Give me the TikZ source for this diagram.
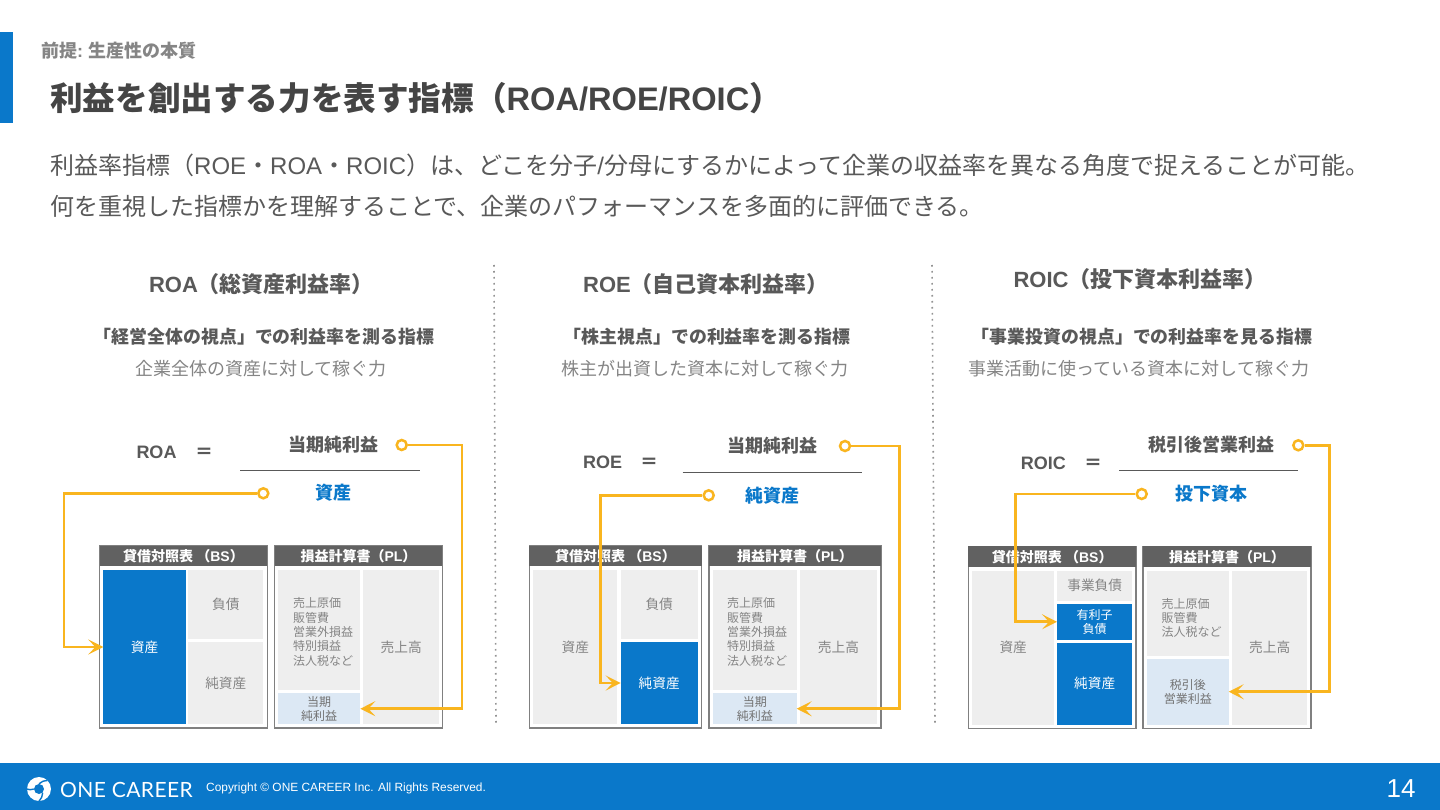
\documentclass[tikz,border=0pt]{standalone}
\usepackage{fontspec}
\setmainfont{Noto Sans CJK JP}
\newfontfamily\latinfont{Liberation Sans}
\newfontfamily\logofont[LetterSpace=2]{Lato}
\newcommand{\la}[1]{{\latinfont #1}}
\newcommand{\fs}[1]{\fontsize{#1}{#1}\selectfont}
\usetikzlibrary{arrows.meta}
\definecolor{oneblue}{HTML}{0A78CA}
\definecolor{amber}{HTML}{F9B51F}
\definecolor{cellgray}{HTML}{EEEEEE}
\definecolor{palecell}{HTML}{DCE8F4}
\definecolor{inkdark}{HTML}{454545}
\definecolor{inkmid}{HTML}{595959}
\definecolor{inklight}{HTML}{858585}
\definecolor{framegray}{HTML}{808080}
\begin{document}
\begin{tikzpicture}[x=1pt,y=-1pt,
    frame/.style ={draw=framegray, line width=1.5pt, minimum height=182pt, inner sep=0pt},
    headbar/.style ={fill=inkmid!95!white, text=white, minimum height=20.5pt, inner sep=0pt, font=\fs{14}\bfseries},
    cell/.style ={fill=cellgray, text=inklight, inner sep=0pt, outer sep=0pt, font=\fs{13.7}, align=center},
    bluecell/.style ={cell, fill=oneblue, text=white},
    twoline/.style ={font=\fontsize{12}{14.5}\selectfont},
    profitcell/.style ={cell, fill=palecell, text=inkmid!85!white, twoline},
    costlist/.style ={text=inklight, inner sep=0pt, font=\fontsize{12}{14.3}\selectfont, align=left},
    paneltitle/.style ={text=inkmid, inner sep=0pt, font=\fs{22}\bfseries},
    panelhead/.style ={text=inkmid, inner sep=0pt, font=\fs{17.9}\bfseries},
    panelnote/.style ={text=inklight, inner sep=0pt, font=\fs{18}},
    formula/.style ={text=inkmid, inner sep=0pt, font=\fs{18}\bfseries},
    denom/.style ={formula, text=oneblue},
    ring/.style ={circle, draw=amber, fill=white, line width=2.5pt, minimum size=10pt, inner sep=0pt},
    link/.style ={draw=amber, line width=2.8pt, -{Stealth[length=15pt, width=15pt, inset=7pt]}},
    fracline/.style ={draw=inkmid, line width=1pt},
    divider/.style ={draw=framegray!85, line width=1.6pt, dash pattern=on 1.6pt off 4.4pt}]
   \useasboundingbox (0,0) rectangle (1440,810);

   % page furniture
   \fill[white] (0,0) rectangle (1440,810);
   \fill[oneblue] (0,32) rectangle (13,123);
   \fill[oneblue] (0,763) rectangle (1440,810);
   \node[anchor=west, inner sep=0pt, text=inklight, font=\fs{18}\bfseries] (kicker) at (41,50.5) {前提\la{:} 生産性の本質};
   \node[anchor=west, inner sep=0pt, text=inkdark, font=\fs{32.6}\bfseries] (title) at (50,98) {利益を創出する力を表す指標（\la{ROA/ROE/ROIC}）};
   \node[anchor=west, inner sep=0pt, text=inkmid, font=\fs{24}] (introA) at (50,165) {利益率指標（\la{ROE}・\la{ROA}・\la{ROIC}）は、どこを分子\la{/}分母にするかによって企業の収益率を異なる角度で捉えることが可能。};
   \node[anchor=west, inner sep=0pt, text=inkmid, font=\fs{24}] (introB) at (50,206) {何を重視した指標かを理解することで、企業のパフォーマンスを多面的に評価できる。};
   \coordinate (divAtop) at (494,265);
   \coordinate (divAend) at (496,725);
   \coordinate (divBtop) at (932,265);
   \coordinate (divBend) at (935,725);
   \draw[divider] (divAtop) -- (divAend);
   \draw[divider] (divBtop) -- (divBend);

   % ROA
   \node[paneltitle] (titleA) at (261.5,284) {\la{ROA}（総資産利益率）};
   \node[panelhead] (headA) at (264,337) {「経営全体の視点」での利益率を測る指標};
   \node[panelnote] (noteA) at (261,368.5) {企業全体の資産に対して稼ぐ力};
   \node[formula] (nameA) at (156.5,452) {\la{ROA}};
   \node[formula] (eqA) at (204,453) {＝};
   \node[formula] (numA) at (333,445) {当期純利益};
   \node[denom] (denA) at (333,493) {資産};
   \coordinate (fracAl) at (240.3,470.7);
   \coordinate (fracAr) at (420,470.7);
   \draw[fracline] (fracAl) -- (fracAr);
   \node[frame, minimum width=167.6pt] (bsA) at (183.5,637) {};
   \node[headbar, minimum width=167.6pt] (bsheadA) at (183.5,556) {貸借対照表 （\la{BS}）};
   \node[bluecell, minimum width=82.4pt, minimum height=154pt] (assetA) at (144.5,647) {資産};
   \node[cell, minimum width=75pt, minimum height=69pt] (debtA) at (225.8,604.5) {負債};
   \node[cell, minimum width=75pt, minimum height=82pt] (equityA) at (225.8,683) {純資産};
   \node[frame, minimum width=167.6pt] (plA) at (358.5,637) {};
   \node[headbar, minimum width=167.6pt] (plheadA) at (358.5,556) {損益計算書（\la{PL}）};
   \node[cell, minimum width=82.3pt, minimum height=120.3pt] (costA) at (319.2,630.2) {};
   \node[costlist, anchor=west] (costtextA) at (293,632) {売上原価\\販管費\\営業外損益\\特別損益\\法人税など};
   \node[profitcell, minimum width=82.3pt, minimum height=30.7pt] (profitA) at (319.2,708.7) {当期\\純利益};
   \node[cell, minimum width=75.7pt, minimum height=154pt] (salesA) at (401.2,647) {売上高};
   \node[ring] (ringAtop) at (401.7,445) {};
   \node[ring] (ringAbot) at (263.3,493.3) {};
   \coordinate (turnAtop) at (462,445);
   \coordinate (turnAbot) at (64,493.3);
   \draw[link] (ringAtop) -- (turnAtop) |- (profitA);
   \draw[link] (ringAbot) -- (turnAbot) |- (assetA);

   % ROE
   \node[paneltitle] (titleB) at (706,284) {\la{ROE}（自己資本利益率）};
   \node[panelhead] (headB) at (707,337) {「株主視点」での利益率を測る指標};
   \node[panelnote] (noteB) at (705,368.5) {株主が出資した資本に対して稼ぐ力};
   \node[formula] (nameB) at (602.7,462.7) {\la{ROE}};
   \node[formula] (eqB) at (649,463.7) {＝};
   \node[formula] (numB) at (772,446) {当期純利益};
   \node[denom] (denB) at (772.5,496) {純資産};
   \coordinate (fracBl) at (682.7,472.3);
   \coordinate (fracBr) at (862.3,472.3);
   \draw[fracline] (fracBl) -- (fracBr);
   \node[frame, minimum width=172.4pt] (bsB) at (615.5,637) {};
   \node[headbar, minimum width=172.4pt] (bsheadB) at (615.5,556) {貸借対照表 （\la{BS}）};
   \node[cell, minimum width=84pt, minimum height=154pt] (assetB) at (575.3,647) {資産};
   \node[cell, minimum width=77pt, minimum height=69pt] (debtB) at (659.2,604.5) {負債};
   \node[bluecell, minimum width=77pt, minimum height=82pt] (equityB) at (659.2,683) {純資産};
   \node[frame, minimum width=172pt] (plB) at (795,637) {};
   \node[headbar, minimum width=172pt] (plheadB) at (795,556) {損益計算書（\la{PL}）};
   \node[cell, minimum width=83.7pt, minimum height=120.3pt] (costB) at (754.8,630.2) {};
   \node[costlist, anchor=west] (costtextB) at (727,632) {売上原価\\販管費\\営業外損益\\特別損益\\法人税など};
   \node[profitcell, minimum width=83.7pt, minimum height=30.7pt] (profitB) at (754.8,708.7) {当期\\純利益};
   \node[cell, minimum width=77pt, minimum height=154pt] (salesB) at (838.5,647) {売上高};
   \node[ring] (ringBtop) at (845,446) {};
   \node[ring] (ringBbot) at (708.7,495.3) {};
   \coordinate (turnBtop) at (899.3,446);
   \coordinate (turnBbot) at (600.7,495.3);
   \draw[link] (ringBtop) -- (turnBtop) |- (profitB);
   \draw[link] (ringBbot) -- (turnBbot) |- (equityB);

   % ROIC
   \node[paneltitle] (titleC) at (1140,279) {\la{ROIC}（投下資本利益率）};
   \node[panelhead] (headC) at (1142,337) {「事業投資の視点」での利益率を見る指標};
   \node[panelnote] (noteC) at (1139,368.5) {事業活動に使っている資本に対して稼ぐ力};
   \node[formula] (nameC) at (1043.3,463.5) {\la{ROIC}};
   \node[formula] (eqC) at (1093,464.5) {＝};
   \node[formula] (numC) at (1211.7,445) {税引後営業利益};
   \node[denom] (denC) at (1211,494) {投下資本};
   \coordinate (fracCl) at (1119,470.7);
   \coordinate (fracCr) at (1298,470.7);
   \draw[fracline] (fracCl) -- (fracCr);
   \node[frame, minimum width=167.7pt] (bsC) at (1052.2,637.7) {};
   \node[headbar, minimum width=167.7pt] (bsheadC) at (1052.2,556.7) {貸借対照表 （\la{BS}）};
   \node[cell, minimum width=81.7pt, minimum height=154pt] (assetC) at (1013.2,647.7) {資産};
   \node[cell, minimum width=75.3pt, minimum height=30.3pt] (debtC) at (1094.7,585.8) {事業負債};
   \node[bluecell, twoline, minimum width=75.3pt, minimum height=36.3pt] (loanC) at (1094.7,621.8) {有利子\\負債};
   \node[bluecell, minimum width=75.3pt, minimum height=81.7pt] (equityC) at (1094.7,683.8) {純資産};
   \node[frame, minimum width=168pt] (plC) at (1227,637.7) {};
   \node[headbar, minimum width=168pt] (plheadC) at (1227,556.7) {損益計算書（\la{PL}）};
   \node[cell, minimum width=81.7pt, minimum height=85pt] (costC) at (1187.8,613.2) {};
   \node[costlist, anchor=west] (costtextC) at (1161.5,618) {売上原価\\販管費\\法人税など};
   \node[profitcell, minimum width=81.7pt, minimum height=66pt] (profitC) at (1187.8,691.7) {税引後\\営業利益};
   \node[cell, minimum width=75.3pt, minimum height=154pt] (salesC) at (1269.7,647.7) {売上高};
   \node[ring] (ringCtop) at (1298.3,445.3) {};
   \node[ring] (ringCbot) at (1141.7,494) {};
   \coordinate (turnCtop) at (1329.3,445.3);
   \coordinate (turnCbot) at (1015.7,494);
   \draw[link] (ringCtop) -- (turnCtop) |- (profitC);
   \draw[link] (ringCbot) -- (turnCbot) |- (loanC);

   % footer
   \node[circle, fill=white, minimum size=24pt, inner sep=0pt] (logoring) at (39,789) {};
   \node[circle, fill=oneblue, minimum size=10pt, inner sep=0pt] (logohole) at (39,789) {};
   \draw[oneblue, line width=1.4pt] (logohole.north) to[bend left=20] (logoring.north east);
   \draw[oneblue, line width=1.4pt] (logohole.south east) to[bend left=20] (logoring.south);
   \draw[oneblue, line width=1.4pt] (logohole.west) to[bend left=20] (logoring.west);
   \node[anchor=west, inner sep=0pt, text=white, font=\fs{21}\logofont] (logotext) at (60,789.5) {ONE CAREER};
   \node[anchor=west, inner sep=0pt, text=white, font=\fs{11.9}\latinfont] (copyright) at (206,788) {Copyright © ONE CAREER Inc. All Rights Reserved.};
   \node[inner sep=0pt, text=white, font=\fs{26}\latinfont] (pageno) at (1401,789) {14};
 \end{tikzpicture}
\end{document}
